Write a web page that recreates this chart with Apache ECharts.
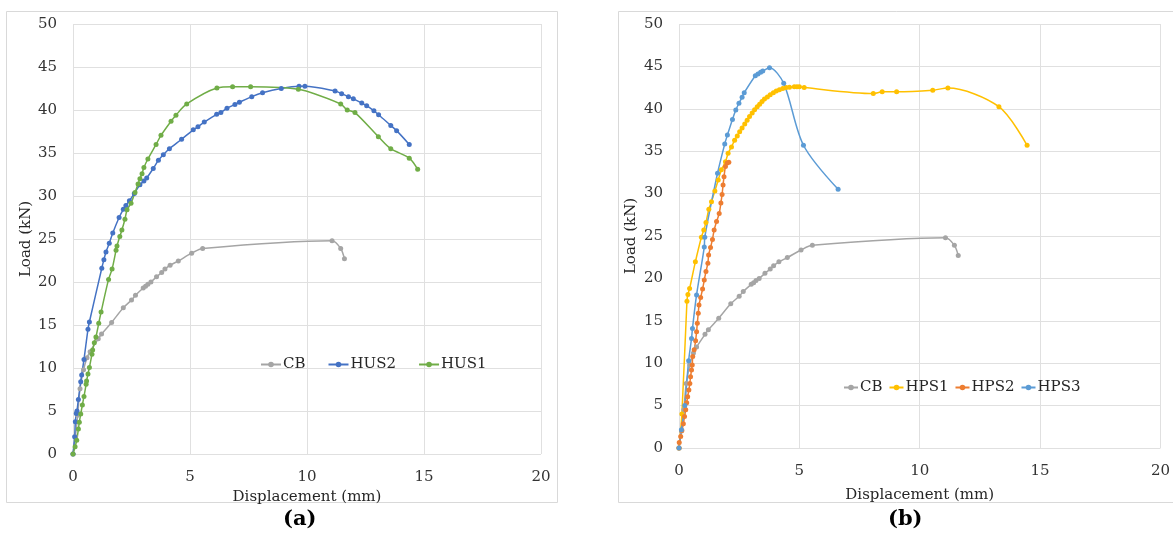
<!DOCTYPE html>
<html>
<head>
<meta charset="utf-8">
<script src="https://cdn.jsdelivr.net/npm/echarts@6/dist/echarts.min.js"></script>
<style>
  html, body { margin: 0; padding: 0; background: #fff; }
  #main { width: 1173px; height: 535px; }
</style>
</head>
<body>
<div id="main"></div>
<script>
// load - displacement points [mm, kN]
var cbPts = [[0,0],[0.1,2.0],[0.2,4.5],[0.3,7.6],[0.45,9.8],[0.6,11.2],[0.73,11.9],[1.08,13.4],[1.22,13.95],[1.65,15.3],[2.15,17.0],[2.5,17.9],[2.67,18.45],[3.0,19.3],[3.1,19.5],[3.2,19.75],[3.33,20.0],[3.57,20.6],[3.79,21.1],[3.93,21.5],[4.15,21.95],[4.5,22.45],[5.07,23.35],[5.54,23.9],[11.07,24.8],[11.44,23.9],[11.6,22.7]];

var hus2Pts = [[0,0],[0.07,2.0],[0.1,3.75],[0.14,4.7],[0.17,5.0],[0.23,6.35],[0.33,8.4],[0.37,9.2],[0.47,11.0],[0.64,14.5],[0.7,15.35],[1.23,21.6],[1.32,22.6],[1.41,23.5],[1.55,24.5],[1.7,25.7],[1.97,27.5],[2.15,28.45],[2.26,28.9],[2.41,29.45],[2.62,30.3],[2.86,31.3],[3.03,31.75],[3.15,32.1],[3.43,33.2],[3.65,34.15],[3.86,34.8],[4.12,35.5],[4.64,36.6],[5.14,37.7],[5.34,38.05],[5.61,38.6],[6.14,39.5],[6.32,39.7],[6.58,40.2],[6.92,40.65],[7.11,40.9],[7.64,41.55],[8.1,42.0],[8.9,42.5],[9.66,42.75],[9.91,42.75],[11.2,42.2],[11.48,41.9],[11.77,41.55],[11.98,41.3],[12.34,40.8],[12.55,40.5],[12.86,39.9],[13.06,39.45],[13.58,38.2],[13.83,37.6],[14.37,36.0]];

var hus1Pts = [[0,0],[0.09,0.85],[0.16,1.6],[0.23,2.9],[0.27,3.7],[0.33,4.65],[0.4,5.7],[0.47,6.7],[0.56,8.1],[0.58,8.5],[0.64,9.3],[0.7,10.05],[0.81,11.6],[0.84,12.1],[0.91,12.95],[0.98,13.6],[1.1,15.2],[1.2,16.5],[1.52,20.3],[1.67,21.5],[1.84,23.7],[1.88,24.2],[2.0,25.3],[2.09,26.05],[2.22,27.3],[2.31,28.4],[2.48,29.15],[2.65,30.4],[2.78,31.4],[2.86,32.0],[2.95,32.6],[3.03,33.3],[3.2,34.3],[3.55,36.0],[3.76,37.05],[4.19,38.7],[4.4,39.4],[4.86,40.7],[6.15,42.55],[6.82,42.7],[7.59,42.7],[9.63,42.4],[11.44,40.7],[11.72,40.0],[12.05,39.7],[13.05,36.9],[13.58,35.5],[14.37,34.4],[14.73,33.1]];

var hps1Pts = [[0,0],[0.12,4],[0.33,17.3],[0.37,18.1],[0.44,18.8],[0.68,21.95],[0.93,24.85],[1.03,25.7],[1.12,26.6],[1.24,28.15],[1.35,29.05],[1.49,30.3],[1.63,31.6],[1.76,32.8],[1.93,33.75],[2.04,34.75],[2.18,35.5],[2.31,36.3],[2.42,36.8],[2.52,37.3],[2.62,37.75],[2.73,38.2],[2.83,38.65],[2.93,39.1],[3.04,39.5],[3.14,39.9],[3.25,40.25],[3.35,40.55],[3.45,40.85],[3.55,41.15],[3.67,41.4],[3.79,41.65],[3.92,41.9],[4.04,42.1],[4.17,42.25],[4.31,42.4],[4.45,42.5],[4.59,42.55],[4.79,42.6],[4.9,42.6],[5.0,42.6],[5.2,42.5],[8.07,41.8],[8.44,42.0],[9.04,42.0],[10.54,42.2],[11.17,42.45],[13.29,40.25],[14.46,35.7]];

var hps2Pts = [[0,0],[0.01,0.65],[0.07,1.35],[0.12,2.05],[0.18,2.85],[0.23,3.7],[0.28,4.5],[0.32,5.35],[0.36,6.05],[0.41,6.85],[0.45,7.6],[0.48,8.4],[0.52,9.2],[0.55,9.8],[0.57,10.8],[0.63,11.6],[0.69,12.65],[0.73,13.7],[0.76,14.7],[0.8,15.9],[0.83,16.85],[0.9,17.75],[0.98,18.75],[1.05,19.8],[1.12,20.8],[1.2,21.8],[1.23,22.75],[1.31,23.65],[1.39,24.6],[1.46,25.7],[1.56,26.7],[1.67,27.65],[1.74,28.9],[1.79,29.9],[1.83,31.0],[1.87,32.0],[1.93,33.2],[2.0,33.6],[2.07,33.7]];

var hps3Pts = [[0,0],[0.1,2.15],[0.24,5.0],[0.4,10.3],[0.52,12.9],[0.56,14.1],[0.73,18.05],[1.05,23.7],[1.07,24.85],[1.6,32.4],[1.9,35.85],[2.01,36.9],[2.22,38.75],[2.36,39.85],[2.49,40.65],[2.62,41.35],[2.71,41.9],[3.17,43.9],[3.28,44.1],[3.39,44.3],[3.48,44.45],[3.76,44.85],[4.35,43.0],[5.17,35.7],[6.61,30.5]];

var legendA = ['CB', 'HUS2', 'HUS1'];
var legendB = ['CB', 'HPS1', 'HPS2', 'HPS3'];

var FONT = 'DejaVu Serif';
var chart = echarts.init(document.getElementById('main'));

function xAx(idx, gap) {
    return {
        type: 'value', gridIndex: idx, min: 0, max: 20, interval: 5,
        name: 'Displacement (mm)', nameLocation: 'middle', nameGap: gap,
        nameTextStyle: { fontFamily: FONT, fontSize: 15, color: '#262626' },
        axisLine: { show: false }, axisTick: { show: false },
        axisLabel: { margin: 16, fontFamily: FONT, fontSize: 15, color: '#333' },
        splitLine: { lineStyle: { color: '#e0e0e0', width: 1 } }
    };
}
function yAx(idx, gap) {
    return {
        type: 'value', gridIndex: idx, min: 0, max: 50, interval: 5,
        name: 'Load (kN)', nameLocation: 'middle', nameGap: gap,
        nameTextStyle: { fontFamily: FONT, fontSize: 15, color: '#262626' },
        axisLine: { show: false }, axisTick: { show: false },
        axisLabel: { margin: 16, fontFamily: FONT, fontSize: 15, color: '#333' },
        splitLine: { lineStyle: { color: '#e0e0e0', width: 1 } }
    };
}
function ser(name, idx, pts, color) {
    return {
        name: name, type: 'line', xAxisIndex: idx, yAxisIndex: idx,
        data: pts, smooth: 0.3, symbol: 'circle', symbolSize: 5,
        lineStyle: { color: color, width: 1.5 },
        itemStyle: { color: color }
    };
}

var option = {
    animation: false,
    backgroundColor: '#fff',
    grid: [
        { left: 73, right: 632, top: 24, bottom: 81 },
        { left: 679, right: 10, top: 24, bottom: 87 }
    ],
    xAxis: [xAx(0, 35), xAx(1, 40)],
    yAxis: [yAx(0, 38), yAx(1, 40)],
    legend: [
        {
            data: legendA, left: 255, top: 352, itemWidth: 20, itemHeight: 7, itemGap: 22,
            textStyle: { fontFamily: FONT, fontSize: 15, color: '#262626', padding: [0, 0, 0, -3] }
        },
        {
            data: legendB, left: 838, top: 375, itemWidth: 14, itemHeight: 7, itemGap: 6,
            textStyle: { fontFamily: FONT, fontSize: 15, color: '#262626', padding: [0, 0, 0, -3] }
        }
    ],
    graphic: [
        { type: 'rect', z: -1, shape: { x: 6.5, y: 11.5, width: 551, height: 491 },
          style: { fill: 'none', stroke: '#d9d9d9', lineWidth: 1 } },
        { type: 'rect', z: -1, shape: { x: 618.5, y: 11.5, width: 600, height: 491 },
          style: { fill: 'none', stroke: '#d9d9d9', lineWidth: 1 } },
        { type: 'text', left: 283, top: 509,
          style: { text: '(a)', font: 'bold 21px "DejaVu Serif"', fill: '#000' } },
        { type: 'text', left: 888, top: 509,
          style: { text: '(b)', font: 'bold 21px "DejaVu Serif"', fill: '#000' } }
    ],
    series: [
        ser('CB', 0, cbPts, '#A5A5A5'),
        ser('HUS2', 0, hus2Pts, '#4472C4'),
        ser('HUS1', 0, hus1Pts, '#70AD47'),
        ser('CB', 1, cbPts, '#A5A5A5'),
        ser('HPS1', 1, hps1Pts, '#FFC000'),
        ser('HPS2', 1, hps2Pts, '#ED7D31'),
        ser('HPS3', 1, hps3Pts, '#5B9BD5')
    ]
};
chart.setOption(option);
</script>
</body>
</html>
